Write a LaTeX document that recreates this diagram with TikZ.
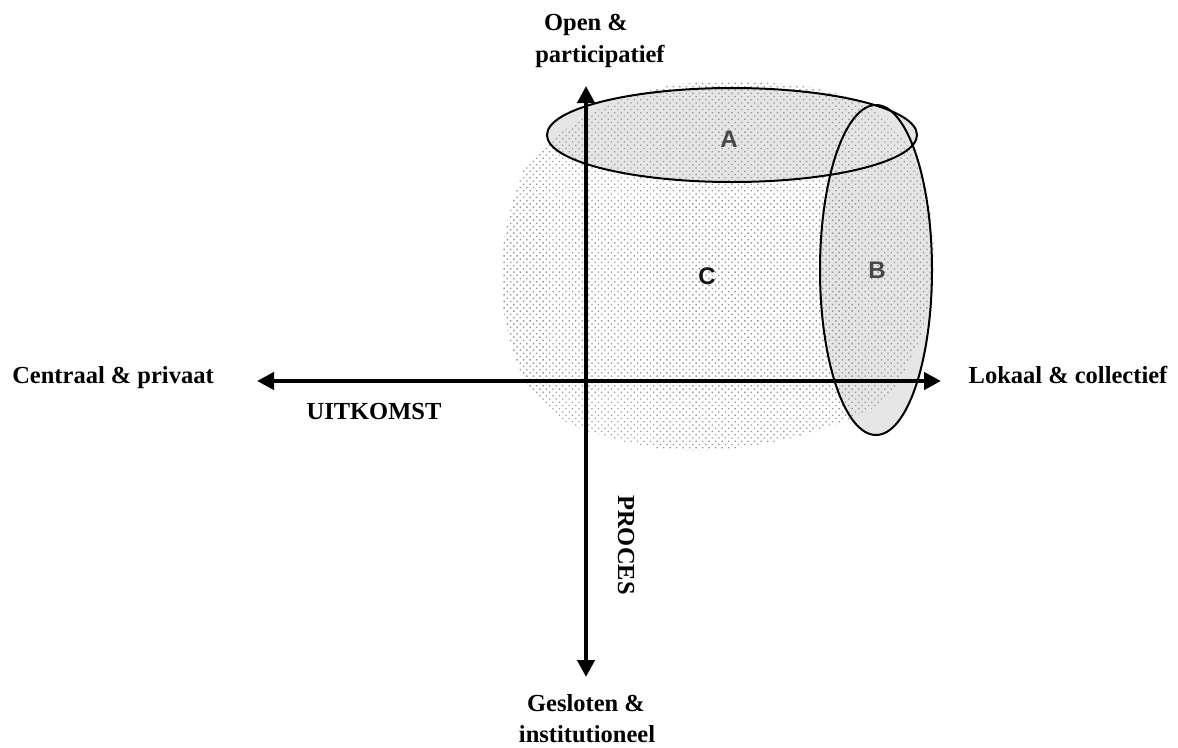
\documentclass[tikz,border=0pt]{standalone}
\usepackage{fontspec}
\setmainfont{Liberation Serif}
\newfontfamily\lettersf{Liberation Sans}
\usetikzlibrary{arrows.meta,patterns.meta}
\tikzset{
  axislabel/.style={font=\fontsize{24.5}{30}\selectfont\bfseries, inner sep=0pt, anchor=base},
  letterlabel/.style={font=\fontsize{24}{28}\selectfont\lettersf\bfseries, text=black!72, inner sep=0pt},
  axisline/.style={line width=4.5pt, -{Triangle[length=17pt,width=17pt]}},
  blobfill/.style={pattern={Dots[angle=45,distance=4.6pt,radius=1pt]}, pattern color=gray!80},
  ovalfill/.style={fill=gray!20},
  ovalline/.style={draw=black, line width=2pt}
}
\begin{document}
\begin{tikzpicture}[x=1pt,y=-1pt]
\useasboundingbox (0,0) rectangle (1178,747);
% ovals A and B (fill)
\path[ovalfill] (732,135) ellipse [x radius=185, y radius=47];
\path[ovalfill] (876,270) ellipse [x radius=56, y radius=165];
% stippled region C
\path[blobfill] plot[smooth cycle, tension=0.7] coordinates {
  (720,82) (850,98) (915,160) (933,267) (905,370) (847,420) (713,450)
  (600,435) (540,400) (510,340) (502,265) (515,195) (540,150) (620,100)};
% oval outlines
\draw[ovalline] (732,135) ellipse [x radius=185, y radius=47];
\draw[ovalline] (876,270) ellipse [x radius=56, y radius=165];
% letters
\node[letterlabel] (la) at (729,139) {A};
\node[letterlabel] (lb) at (877,270) {B};
\node[letterlabel, text=black!92] (lc) at (707,276) {C};
% axes
\coordinate (O) at (586,381);
\coordinate (top) at (586,86);
\coordinate (bottom) at (586,677);
\coordinate (left) at (257,381);
\coordinate (right) at (941,381);
\draw[axisline] (O) -- (top);
\draw[axisline] (O) -- (bottom);
\draw[axisline] (O) -- (left);
\draw[axisline] (O) -- (right);
\draw[line width=4.5pt] (586,376) -- (586,386);
% labels
\node[axislabel] (open1) at (586,30) {Open \&};
\node[axislabel] (open2) at (600,62) {participatief};
\node[axislabel] (closed1) at (586,711) {Gesloten \&};
\node[axislabel] (closed2) at (587,742) {institutioneel};
\node[axislabel] (west) at (113,383) {Centraal \& privaat};
\node[axislabel] (east) at (1068,383) {Lokaal \& collectief};
\node[axislabel] (uit) at (374,419) {UITKOMST};
\node[axislabel, anchor=center, rotate=-90] (proc) at (626,545) {PROCES};
\end{tikzpicture}
\end{document}
